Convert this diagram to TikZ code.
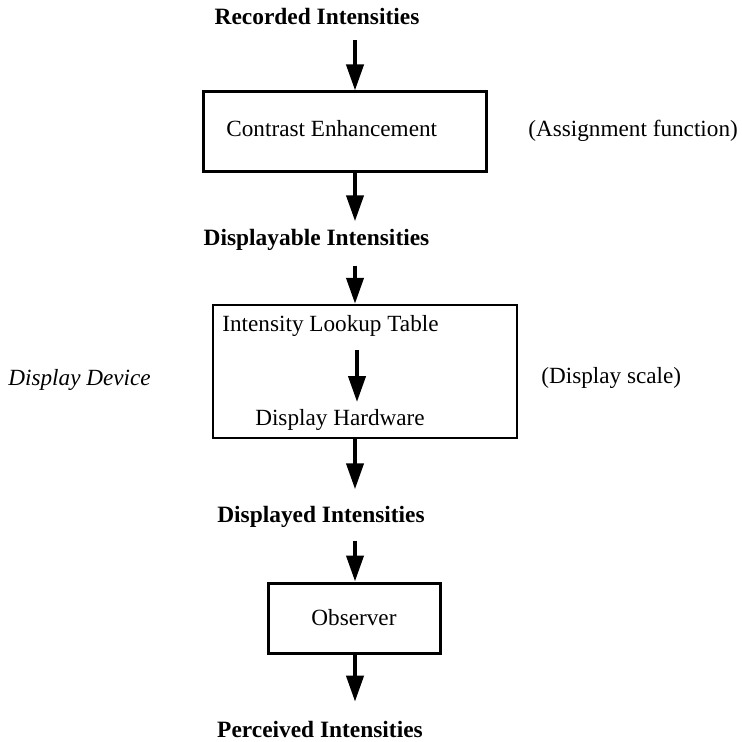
\documentclass[tikz,border=0pt]{standalone}
\usepackage{fontspec}
\setmainfont{Liberation Serif}
\usetikzlibrary{arrows.meta,positioning}

\tikzset{
  flow/.style={-{Triangle[length=13pt,width=8.5pt]},line width=2pt},
  stage/.style={draw,line width=1.5pt,inner sep=0pt},
  level/.style={font=\fontsize{11.7}{14}\selectfont\bfseries},
  note/.style={inner sep=0pt}
}

\begin{document}
\begin{tikzpicture}[x=0.5pt,y=-0.5pt,font=\fontsize{11.6}{14}\selectfont]
\useasboundingbox (0,0) rectangle (742,742);
\coordinate (spine) at (355,0);

% intensity levels
\node[level] (rec) at (317,17) {Recorded Intensities};
\node[level] (dsp) at (316.5,240) {Displayable Intensities};
\node[level] (dsd) at (321,517) {Displayed Intensities};
\node[level] (per) at (320,729) {Perceived Intensities};

% processing stages
\node[stage,minimum width=141.5pt,minimum height=40pt] (enh) at (344.5,132) {};
\node[note,anchor=west] (enhtxt) at (226,129) {Contrast Enhancement};
\node[note,anchor=west] (assign) at (528,131) {(Assignment function)};

\node[stage,line width=1.2pt,minimum width=152pt,minimum height=66.5pt] (dev) at (365,371.5) {};
\node[note,anchor=west] (lut) at (222,326) {Intensity Lookup Table};
\node[note] (hw) at (340,420) {Display Hardware};
\node[note,anchor=west] (scale) at (541,378) {(Display scale)};
\node[note,anchor=west,font=\fontsize{11.6}{14}\selectfont\itshape] (devtxt) at (8,380) {Display Device};

\node[stage,minimum width=86pt,minimum height=35pt] (obs) at (354,618) {Observer};

% arrows
\draw[flow,shorten <=4pt] (rec.south -| spine) -- (enh.north -| spine);
\draw[flow,shorten >=0.5pt] (enh.south -| spine) -- (dsp.north -| spine);
\draw[flow,shorten <=4pt] (dsp.south -| spine) -- (dev.north -| spine);
\draw[flow,shorten <=6.5pt,shorten >=3.5pt] ([xshift=1pt]lut.south -| spine) -- ([xshift=1pt]hw.north -| spine);
\draw[flow,shorten >=5pt] (dev.south -| spine) -- (dsd.north -| spine);
\draw[flow,shorten <=3pt] (dsd.south -| spine) -- (obs.north -| spine);
\draw[flow,shorten >=6pt] (obs.south -| spine) -- (per.north -| spine);
\end{tikzpicture}
\end{document}
